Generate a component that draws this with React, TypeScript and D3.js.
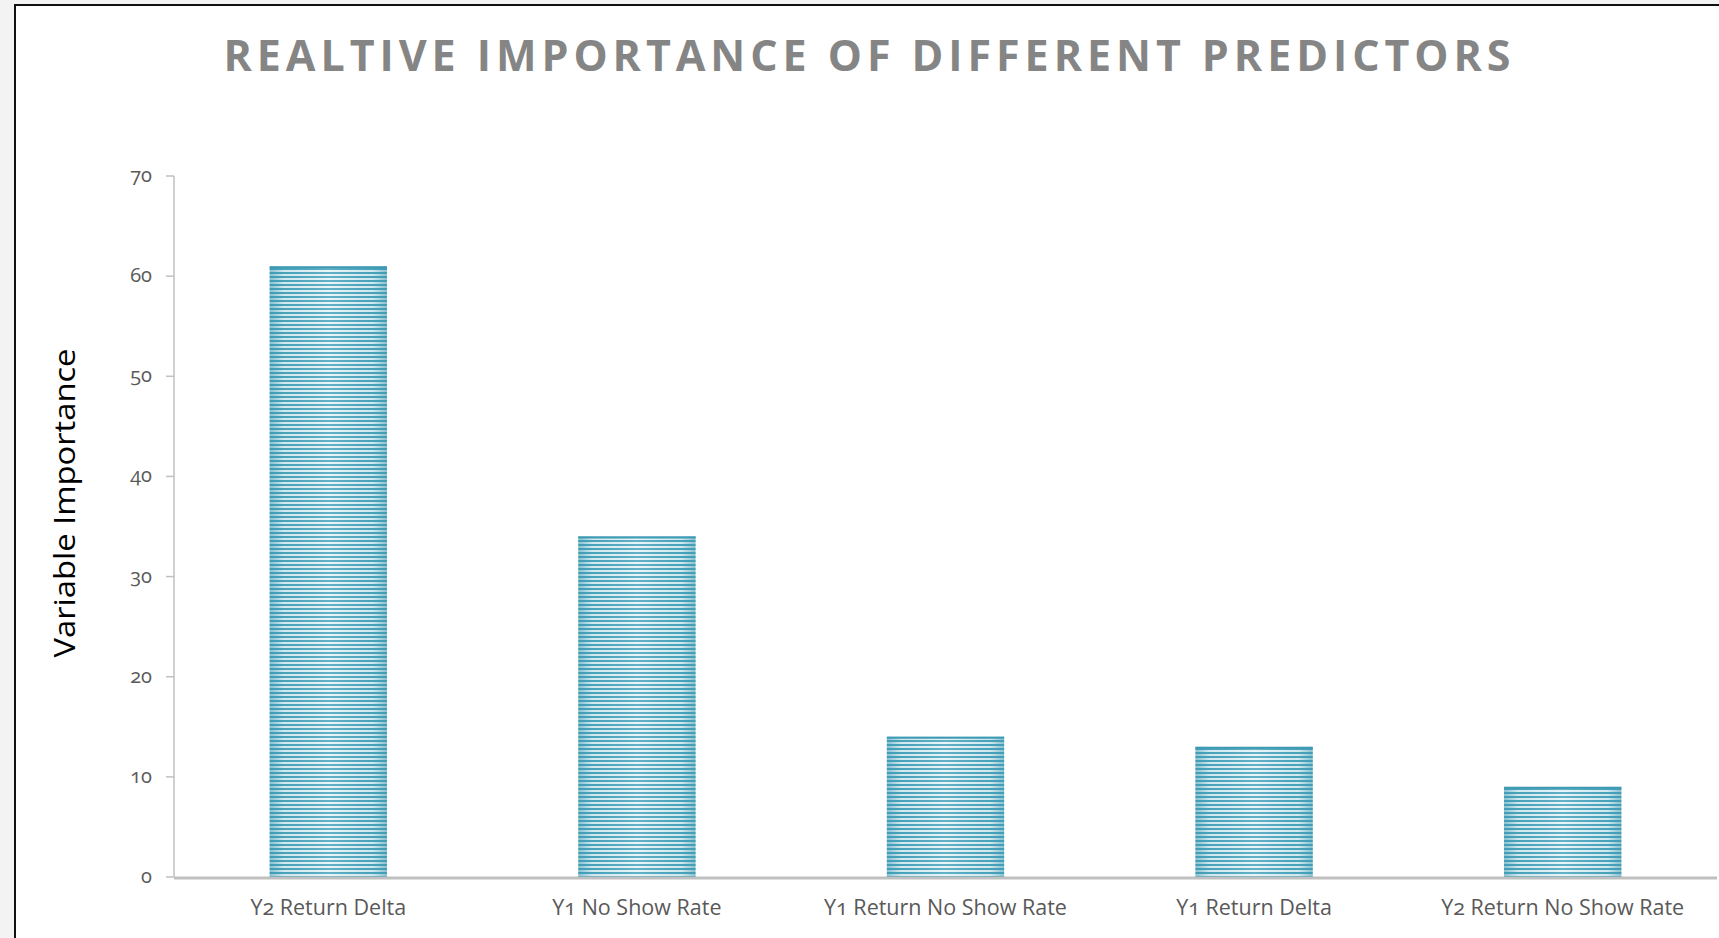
import React from "react";
import * as d3 from "d3";

const categories = ["Y2 Return Delta", "Y1 No Show Rate", "Y1 Return No Show Rate", "Y1 Return Delta", "Y2 Return No Show Rate"];
const values = [61, 34, 14, 13, 9];
const yTicks = [0, 10, 20, 30, 40, 50, 60, 70];
const title = "REALTIVE IMPORTANCE OF DIFFERENT PREDICTORS";
const yLabel = "Variable Importance";

const W = 1719;
const H = 938;
const M = { left: 174, right: 1717, top: 176, bottom: 877 };

export default function App() {
  const x = d3.scaleBand<string>().domain(categories).range([M.left, M.right]).paddingInner(0.62).paddingOuter(0.31);
  const y = d3.scaleLinear().domain([0, 70]).range([M.bottom, M.top]);
  const numFont = "'Open Sans', sans-serif";
  return (
    <svg width={W} height={H} style={{ position: "absolute", left: 0, top: 0 }}>
      <defs>
        <pattern id="stripes" width="4" height="4" patternUnits="userSpaceOnUse">
          <rect x="0" y="0" width="4" height="4" fill="#e4f3f7" />
          <rect x="0" y="0" width="4" height="2" fill="#48a3bb" />
        </pattern>
        <linearGradient id="edge" x1="0" x2="1" y1="0" y2="0">
          <stop offset="0" stopColor="#3c97b0" stopOpacity="0.55" />
          <stop offset="0.12" stopColor="#3c97b0" stopOpacity="0.12" />
          <stop offset="0.5" stopColor="#ffffff" stopOpacity="0.15" />
          <stop offset="0.88" stopColor="#3c97b0" stopOpacity="0.12" />
          <stop offset="1" stopColor="#3c97b0" stopOpacity="0.55" />
        </linearGradient>
      </defs>
      <rect x={0} y={0} width={W} height={H} fill="#f3f3f3" />
      <rect x={15} y={5} width={W + 10} height={H + 10} fill="#ffffff" stroke="#111" strokeWidth={2} />
      <text
        x={867}
        y={71}
        textAnchor="middle"
        fontFamily="'Open Sans', sans-serif"
        fontWeight={700}
        fontSize={43}
        fill="#858585"
        textLength={1287}
        lengthAdjust="spacing"
      >
        {title}
      </text>
      <text
        transform={`translate(${75},${503}) rotate(-90)`}
        textAnchor="middle"
        fontFamily="'Open Sans', sans-serif"
        fontSize={29}
        fill="#000"
        textLength={309}
        lengthAdjust="spacingAndGlyphs"
      >
        {yLabel}
      </text>
      {categories.map((c, i) => (
        <g key={c}>
          <rect x={x(c)} y={y(values[i])} width={x.bandwidth()} height={y(0) - y(values[i])} fill="url(#stripes)" />
          <rect x={x(c)} y={y(values[i])} width={x.bandwidth()} height={y(0) - y(values[i])} fill="url(#edge)" />
          <line x1={x(c)} x2={(x(c) as number) + x.bandwidth()} y1={y(values[i]) + 1} y2={y(values[i]) + 1} stroke="#3f9ab3" strokeWidth={2} />
          <text
            x={(x(c) as number) + x.bandwidth() / 2}
            y={915}
            textAnchor="middle"
            fontFamily={numFont}
            fontSize={21.5}
            fill="#595959"
            style={{ fontVariantNumeric: "oldstyle-nums" }}
          >
            {c}
          </text>
        </g>
      ))}
      <line x1={M.left} x2={M.left} y1={M.top} y2={M.bottom} stroke="#c0c0c0" strokeWidth={1.5} />
      {yTicks.map((t) => (
        <g key={t}>
          <line x1={M.left - 8} x2={M.left} y1={y(t)} y2={y(t)} stroke="#c0c0c0" strokeWidth={1.5} />
          <text
            x={M.left - 22}
            y={y(t) + 6}
            textAnchor="end"
            fontFamily={numFont}
            fontSize={20}
            fill="#595959"
            style={{ fontVariantNumeric: "oldstyle-nums" }}
          >
            {t}
          </text>
        </g>
      ))}
      <line x1={M.left} x2={M.right} y1={M.bottom + 1} y2={M.bottom + 1} stroke="#c0c0c0" strokeWidth={3} />
    </svg>
  );
}
